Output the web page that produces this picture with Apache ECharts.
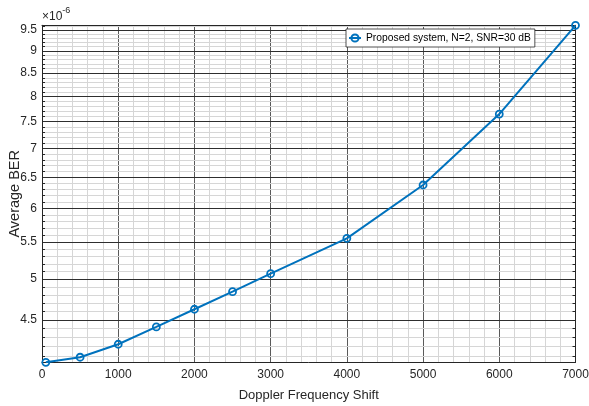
<!DOCTYPE html>
<html>
<head>
<meta charset="utf-8">
<script src="https://cdn.jsdelivr.net/npm/echarts@6/dist/echarts.min.js"></script>
<style>
  html, body { margin: 0; padding: 0; background: #ffffff; }
  #chart { width: 589px; height: 406px; }
</style>
</head>
<body>
<div id="chart"></div>
<script>
// Doppler frequency shift (Hz) of each simulated point
const dopplerShift = [50, 500, 1000, 1500, 2000, 2500, 3000, 4000, 5000, 6000, 7000];
// Average BER at each shift, in units of 1e-6
const averageBer = [4.035, 4.088, 4.227, 4.42, 4.626, 4.84, 5.07, 5.554, 6.372, 7.65, 9.616];
const seriesName = 'Proposed system, N=2, SNR=30 dB';

// Axis tick labels
const xTickLabels = [0, 1000, 2000, 3000, 4000, 5000, 6000, 7000];
const yTickLabels = [4.5, 5, 5.5, 6, 6.5, 7, 7.5, 8, 8.5, 9, 9.5];

// Minor grid on the log axis every 0.1
const yMinor = [];
for (let k = 41; k <= 96; k++) yMinor.push(k / 10);

const ink = '#262626';
const sans = "'Liberation Sans', Arial, Helvetica, sans-serif";

const yMin = Math.min(...averageBer);
const yMax = Math.max(...averageBer);

const chart = echarts.init(document.getElementById('chart'), null, { renderer: 'canvas' });

chart.setOption({
  backgroundColor: '#ffffff',
  animation: false,
  grid: { left: 42, right: 13.5, top: 25.3, bottom: 43.7, containLabel: false, outerBoundsMode: 'none' },
  legend: {
    left: 346, top: 29,
    padding: [4, 4, 4, 2],
    itemWidth: 12, itemHeight: 9, itemGap: 0,
    backgroundColor: '#ffffff',
    borderColor: ink, borderWidth: 0.8,
    textStyle: { color: '#000000', fontFamily: sans, fontSize: 10.3 },
    data: [seriesName]
  },
  xAxis: [
    {
      type: 'value', position: 'bottom', min: xTickLabels[0], max: xTickLabels[xTickLabels.length - 1],
      interval: 1000, z: 0,
      axisLine: { show: true, lineStyle: { color: ink, width: 1 } },
      axisTick: { show: false },
      axisLabel: { color: ink, fontFamily: sans, fontSize: 12, margin: 6, formatter: v => String(v) },
      splitLine: { show: true, lineStyle: { color: '#5a5a5a', width: 1 } },
      minorTick: { show: false, splitNumber: 5 },
      minorSplitLine: { show: true, lineStyle: { color: '#d6d6d6', width: 1 } },
      name: 'Doppler Frequency Shift', nameLocation: 'middle', nameGap: 27, nameMoveOverlap: false,
      nameTextStyle: { color: ink, fontFamily: sans, fontSize: 13 }
    },
    {
      type: 'value', position: 'top', min: 0, max: 7000,
      axisLine: { show: true, onZero: false, lineStyle: { color: ink, width: 1 } },
      axisTick: { show: false }, axisLabel: { show: false }, splitLine: { show: false }
    }
  ],
  yAxis: [
    {
      // major ticks, labels and dark grid lines
      type: 'log', logBase: 10, min: yMin, max: yMax, position: 'left', z: 2,
      axisLine: { show: true, lineStyle: { color: ink, width: 1 } },
      axisTick: { show: false, customValues: yTickLabels },
      axisLabel: { color: ink, fontFamily: sans, fontSize: 12, margin: 5, customValues: yTickLabels,
        formatter: v => String(v) },
      splitLine: { show: true, lineStyle: { color: '#2e2e2e', width: 1 } },
      name: 'Average BER', nameLocation: 'middle', nameGap: 20, nameRotate: 90, nameMoveOverlap: false,
      nameTextStyle: { color: ink, fontFamily: sans, fontSize: 14.5 }
    },
    {
      // minor ticks and light grid lines
      type: 'log', logBase: 10, min: yMin, max: yMax, position: 'left', z: 1,
      axisLine: { show: false },
      axisTick: { show: true, inside: true, length: 3, customValues: yMinor, lineStyle: { color: ink } },
      axisLabel: { show: false },
      splitLine: { show: true, lineStyle: { color: '#d6d6d6', width: 1 } }
    },
    {
      // right-hand box edge with inward minor ticks
      type: 'log', logBase: 10, min: yMin, max: yMax, position: 'right', z: 2,
      axisLine: { show: true, onZero: false, lineStyle: { color: ink, width: 1 } },
      axisTick: { show: true, inside: true, length: 3, customValues: yMinor, lineStyle: { color: ink } },
      axisLabel: { show: false },
      splitLine: { show: false }
    }
  ],
  graphic: [
    {
      type: 'text', left: 42, top: 6, z: 5,
      style: {
        text: '{a|×10}{b|-6}',
        rich: {
          a: { fontFamily: sans, fontSize: 12, fill: ink, verticalAlign: 'bottom', padding: [5, 0, 0, 0] },
          b: { fontFamily: sans, fontSize: 9, fill: ink, verticalAlign: 'top' }
        }
      }
    }
  ],
  series: [
    {
      name: seriesName,
      type: 'line',
      xAxisIndex: 0, yAxisIndex: 0,
      z: 10,
      data: dopplerShift.map((x, i) => [x, averageBer[i]]),
      symbol: 'circle', symbolSize: 7,
      showAllSymbol: true,
      lineStyle: { color: '#0072BD', width: 2 },
      itemStyle: { color: 'rgba(255,255,255,0)', borderColor: '#0072BD', borderWidth: 1.8 },
      emphasis: { disabled: true }
    }
  ]
});
</script>
</body>
</html>
